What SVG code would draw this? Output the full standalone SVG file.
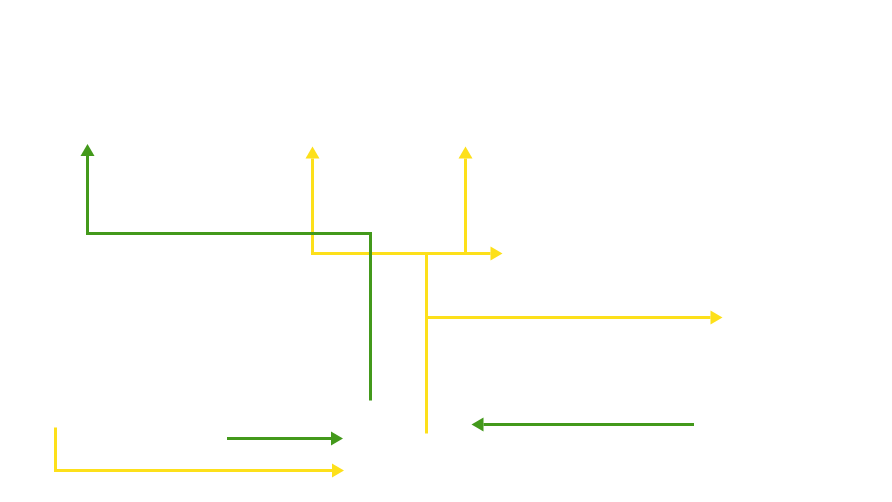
<svg xmlns="http://www.w3.org/2000/svg" width="892" height="502" viewBox="0 0 892 502">
  <style>
    .g { fill: none; stroke: #43991b; stroke-width: 3; }
    .y { fill: none; stroke: #fde01a; stroke-width: 3; }
  </style>
  <defs>
    <marker id="ag" markerUnits="userSpaceOnUse" markerWidth="12" markerHeight="14" refX="0" refY="7" orient="auto" overflow="visible">
      <path d="M0,0 L12,7 L0,14 Z" fill="#43991b"/>
    </marker>
    <marker id="ay" markerUnits="userSpaceOnUse" markerWidth="12" markerHeight="14" refX="0" refY="7" orient="auto" overflow="visible">
      <path d="M0,0 L12,7 L0,14 Z" fill="#fde01a"/>
    </marker>
  </defs>
  <rect width="892" height="502" fill="#ffffff"/>
  <g id="connectors">
    <path class="y" d="M426.5,253.5 H312.5 V158.5" marker-end="url(#ay)"/>
    <path class="y" d="M312.5,253.5 H490.5" marker-end="url(#ay)"/>
    <path class="y" d="M465.5,253.5 V158.5" marker-end="url(#ay)"/>
    <path class="y" d="M426.5,253.5 V433.5"/>
    <path class="y" d="M426.5,317.5 H710.5" marker-end="url(#ay)"/>
    <path class="y" d="M55.5,427.5 V470.5 H332" marker-end="url(#ay)"/>
    <path class="g" d="M370.5,400.5 V233.5 H87.5 V156" marker-end="url(#ag)"/>
    <path class="g" d="M227,438.5 H331" marker-end="url(#ag)"/>
    <path class="g" d="M694,424.5 H483.5" marker-end="url(#ag)"/>
  </g>
</svg>
